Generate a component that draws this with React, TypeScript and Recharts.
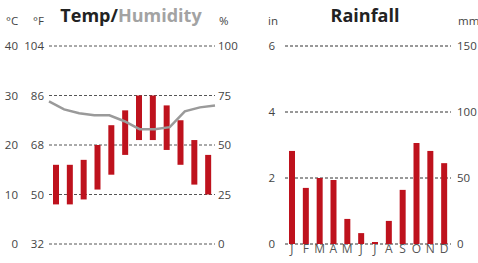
import {
	ComposedChart,
	BarChart,
	Bar,
	Line,
	XAxis,
	YAxis,
	CartesianGrid,
} from "recharts";

const months = ["J", "F", "M", "A", "M", "J", "J", "A", "S", "O", "N", "D"];
const tempMin = [8, 8, 9, 11, 14, 18, 21, 21, 19, 16, 12, 10];
const tempMax = [16, 16, 17, 20, 24, 27, 30, 30, 28, 25, 21, 18];
const humidity = [72, 68, 66, 65, 65, 62, 58, 58, 59, 67, 69, 70];
const rainIn = [2.82, 1.7, 2.0, 1.94, 0.76, 0.33, 0.06, 0.7, 1.64, 3.06, 2.82, 2.45];

const celsiusTicks = [0, 10, 20, 30, 40];
const fahrenheitTicks = [32, 50, 68, 86, 104];
const humidityTicks = [0, 25, 50, 75, 100];
const inchTicks = [0, 2, 4, 6];
const mmTicks = [0, 50, 100, 150];

const RED = "#be121d";
const FONT = "'Open Sans', 'DejaVu Sans', sans-serif";
const tickStyle = { fill: "#444", fontSize: 11.5, fontFamily: FONT };
const monthTick = { fill: "#555", fontSize: 12, fontFamily: FONT };

const tempData = months.map((m, i) => ({
	i,
	m,
	min: tempMin[i],
	max: tempMax[i],
	hum: humidity[i],
}));

const rainData = months.map((m, i) => ({ i, m, rain: rainIn[i] }));

const unit = (left: number, text: string) => (
	<div
		style={{
			position: "absolute",
			left,
			top: 13,
			fontSize: 11.5,
			color: "#444",
			fontFamily: FONT,
		}}
	>
		{text}
	</div>
);

export default function App() {
	return (
		<div
			style={{
				position: "absolute",
				left: 0,
				top: 0,
				width: 478,
				height: 263,
				background: "#fff",
				fontFamily: FONT,
				overflow: "hidden",
			}}
		>
			<div
				style={{
					position: "absolute",
					left: 0,
					width: 262,
					top: 3,
					textAlign: "center",
					fontSize: 18,
					fontWeight: 700,
					color: "#222",
				}}
			>
				Temp/<span style={{ color: "#a3a3a3" }}>Humidity</span>
			</div>
			<div
				style={{
					position: "absolute",
					left: 240,
					width: 250,
					top: 3,
					textAlign: "center",
					fontSize: 18,
					fontWeight: 700,
					color: "#222",
				}}
			>
				Rainfall
			</div>
			{unit(6, "°C")}
			{unit(33, "°F")}
			{unit(219, "%")}
			{unit(268, "in")}
			{unit(458, "mm")}

			<div style={{ position: "absolute", left: 0, top: 0 }}>
				<ComposedChart
					width={240}
					height={263}
					data={tempData}
					margin={{ top: 46, right: 0, bottom: 0, left: 0 }}
				>
					<CartesianGrid
						yAxisId="zc"
						vertical={false}
						stroke="#555"
						strokeDasharray="3 2"
					/>
					<XAxis
						xAxisId="m"
						dataKey="m"
						height={19}
						axisLine={false}
						tickLine={false}
						tickSize={0}
						tickMargin={0}
						interval={0}
						tick={monthTick}
					/>
					<XAxis
						xAxisId="h"
						dataKey="i"
						type="number"
						domain={[0, 11]}
						hide
					/>
					<YAxis
						yAxisId="af"
						orientation="left"
						type="number"
						domain={[32, 104]}
						ticks={fahrenheitTicks}
						allowDataOverflow
						width={29}
						axisLine={false}
						tickLine={false}
						tickSize={0}
						tickMargin={5}
						tick={tickStyle}
					/>
					<YAxis
						yAxisId="zc"
						orientation="left"
						type="number"
						domain={[0, 40]}
						ticks={celsiusTicks}
						width={20}
						axisLine={false}
						tickLine={false}
						tickSize={0}
						tickMargin={2}
						tick={tickStyle}
					/>
					<YAxis
						yAxisId="pct"
						orientation="right"
						type="number"
						domain={[0, 100]}
						ticks={humidityTicks}
						width={25}
						axisLine={false}
						tickLine={false}
						tickSize={0}
						tickMargin={3}
						tick={tickStyle}
					/>
					<Bar
						xAxisId="m"
						yAxisId="zc"
						dataKey={(d: { min: number; max: number }) => [d.min, d.max]}
						fill={RED}
						barSize={6}
						isAnimationActive={false}
					/>
					<Line
						xAxisId="h"
						yAxisId="pct"
						dataKey="hum"
						type="linear"
						stroke="#9a9a9a"
						strokeWidth={2.5}
						dot={false}
						activeDot={false}
						isAnimationActive={false}
					/>
				</ComposedChart>
			</div>

			<div style={{ position: "absolute", left: 240, top: 0 }}>
				<BarChart
					width={238}
					height={263}
					data={rainData}
					margin={{ top: 46, right: 0, bottom: 0, left: 0 }}
				>
					<CartesianGrid
						yAxisId="in"
						vertical={false}
						stroke="#333"
						strokeDasharray="3 2"
					/>
					<XAxis
						dataKey="m"
						height={19}
						axisLine={false}
						tickLine={false}
						tickSize={0}
						tickMargin={0}
						interval={0}
						tick={monthTick}
					/>
					<YAxis
						yAxisId="in"
						orientation="left"
						type="number"
						domain={[0, 6]}
						ticks={inchTicks}
						width={45}
						axisLine={false}
						tickLine={false}
						tickSize={0}
						tickMargin={10}
						tick={tickStyle}
					/>
					<YAxis
						yAxisId="mm"
						orientation="right"
						type="number"
						domain={[0, 150]}
						ticks={mmTicks}
						allowDataOverflow
						width={27}
						axisLine={false}
						tickLine={false}
						tickSize={0}
						tickMargin={6}
						tick={tickStyle}
					/>
					<Bar
						yAxisId="in"
						dataKey="rain"
						fill={RED}
						barSize={6}
						isAnimationActive={false}
					/>
				</BarChart>
			</div>
		</div>
	);
}
